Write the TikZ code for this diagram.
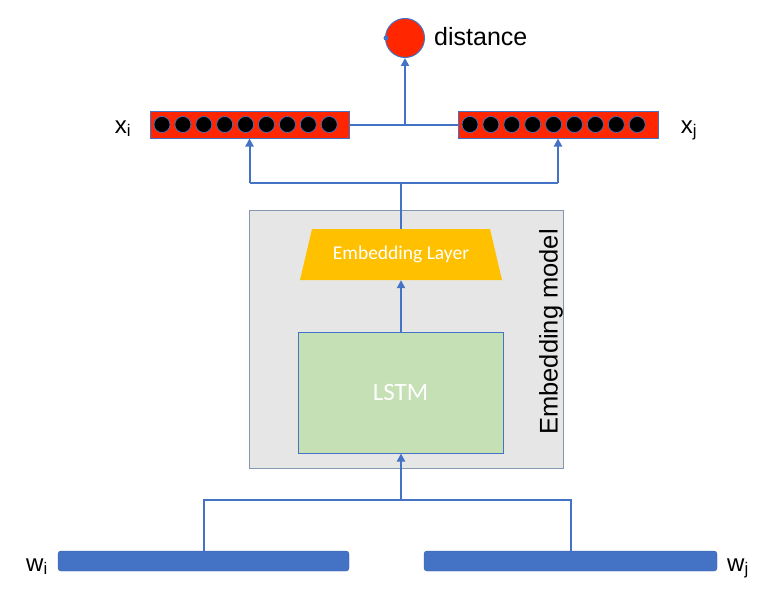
\documentclass[tikz,border=0pt]{standalone}
\usepackage{fontspec}
\setmainfont{Liberation Sans}
\newfontfamily\carlitofont{Carlito}
\usetikzlibrary{arrows.meta,calc}
\definecolor{lblue}{HTML}{4472C4}
\definecolor{vred}{HTML}{FF2600}
\definecolor{gfill}{HTML}{E7E6E6}
\definecolor{gedge}{HTML}{8497B0}
\definecolor{gfillb}{HTML}{C5E0B4}
\definecolor{orng}{HTML}{FFC000}
\tikzset{
  conn/.style={draw=lblue, line width=2pt},
  arr/.style={conn, -{Triangle[length=8pt,width=8pt]}},
  vecbox/.style={draw=lblue, line width=1pt, fill=vred, minimum width=199pt, minimum height=27pt, inner sep=0pt},
  vdot/.style={circle, draw=lblue, line width=0.7pt, fill=black, minimum size=16pt, inner sep=0pt},
  wbar/.style={rectangle, rounded corners=3pt, fill=lblue, draw=lblue!80!black, line width=0.4pt, minimum width=291pt, minimum height=20pt, inner sep=0pt},
  lbl/.style={font=\fontsize{24}{28}\selectfont, inner sep=0pt}
}
\begin{document}
\begin{tikzpicture}[x=1pt,y=-1pt]
\useasboundingbox (0,0) rectangle (776,594);
% distance
\node[circle, draw=lblue, line width=1pt, fill=vred, minimum size=39pt, inner sep=0pt] (dist) at (405,38) {};
\node[circle, fill=lblue, minimum size=5pt, inner sep=0pt] (ddot) at (386,38) {};
\node[anchor=west, font=\fontsize{25}{29}\selectfont, inner sep=0pt] (distl) at (434,37) {distance};
% vectors
\node[vecbox] (xi) at (249.5,124.5) {};
\node[vecbox, minimum width=200pt] (xj) at (558,124.5) {};
\foreach \k in {0,...,8}{
  \node[vdot] (di\k) at ({162+\k*20.9},124.5) {};
  \node[vdot] (dj\k) at ({470+\k*20.9},124.5) {};
}
\node[lbl, anchor=base] (xil) at (123,133) {x\textsubscript{i}};
\node[lbl, anchor=base] (xjl) at (689,133) {x\textsubscript{j}};
\coordinate (mid) at (405,124.5);
\draw[conn] (xi.east) -- (xj.west);
\draw[arr] (mid) -- (dist.south);
% embedding model box
\node[rectangle, draw=gedge, line width=1pt, fill=gfill, minimum width=314pt, minimum height=258pt, inner sep=0pt] (gm) at (406,339) {};
\node[rotate=90, font=\fontsize{25.5}{29}\selectfont, inner sep=0pt] (gml) at (551,332) {Embedding model};
% trapezoid
\fill[orng] (312,229) -- (490,229) -- (502,280) -- (300,280) -- cycle;
\node[minimum width=202pt, minimum height=51pt, inner sep=0pt, text=white, font=\carlitofont\fontsize{19.5}{22}\selectfont] (emb) at (401,254.5) {Embedding Layer};
% LSTM
\node[rectangle, draw=lblue, line width=1pt, fill=gfillb, minimum width=205pt, minimum height=121pt, inner sep=0pt, text=white, font=\carlitofont\fontsize{25}{28}\selectfont] (lstm) at (400.5,392.5) {LSTM};
\draw[arr] (lstm.north -| emb.south) -- (emb.south);
% top split
\coordinate (t) at (401,183);
\draw[conn] (emb.north) -- (t);
\draw[conn] (xi.south |- t) -- (xj.south |- t);
\draw[arr] (xi.south |- t) -- (xi.south);
\draw[arr] (xj.south |- t) -- (xj.south);
% bottom
\node[wbar] (wi) at (203.5,561) {};
\node[wbar, minimum width=293pt] (wj) at (570.5,561) {};
\node[lbl, anchor=base] (wil) at (37,571) {w\textsubscript{i}};
\node[lbl, anchor=base] (wjl) at (738,571) {w\textsubscript{j}};
\coordinate (b) at (401,500);
\draw[conn] (wi.north) |- (wj.north |- b) -- (wj.north);
\draw[arr] (b) -- (b |- lstm.south);
\end{tikzpicture}
\end{document}
